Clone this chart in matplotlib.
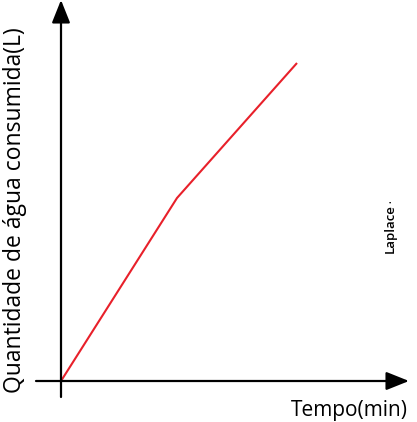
import matplotlib.pyplot as plt

# tempo (min) e água consumida (L), em unidades arbitrárias
tempo = [0, 116, 236]
agua = [0, 183, 318]

plt.rcParams['font.family'] = ['Open Sans', 'DejaVu Sans']

fig = plt.figure(figsize=(4.17, 4.22), dpi=100)
ax = fig.add_axes([0, 0, 1, 1])
ax.set_xlim(-61, 356)
ax.set_ylim(-41, 381)
ax.axis('off')

arrow = dict(arrowstyle='-|>,head_length=1.0,head_width=0.4', color='black',
             lw=1.6, mutation_scale=14, shrinkA=0, shrinkB=0)
ax.annotate('', xy=(348, 0), xytext=(-25, 0), arrowprops=arrow,
            annotation_clip=False)
ax.annotate('', xy=(0, 381), xytext=(0, -16), arrowprops=arrow,
            annotation_clip=False)

ax.plot(tempo, agua, color='#e8202a', lw=1.5, solid_capstyle='butt')

ax.text(347, -19, 'Tempo(min)', ha='right', va='top', fontsize=15)
ax.text(-46, 171, 'Quantidade de água consumida(L)', ha='center', va='center',
        rotation=90, fontsize=16.5)
ax.text(329, 152, 'Laplace', ha='center', va='center', rotation=90,
        fontsize=9.5, fontweight='semibold')
ax.text(331, 179, '•', ha='center', va='center', rotation=90, fontsize=5)

fig.savefig('out.png', dpi=100)
